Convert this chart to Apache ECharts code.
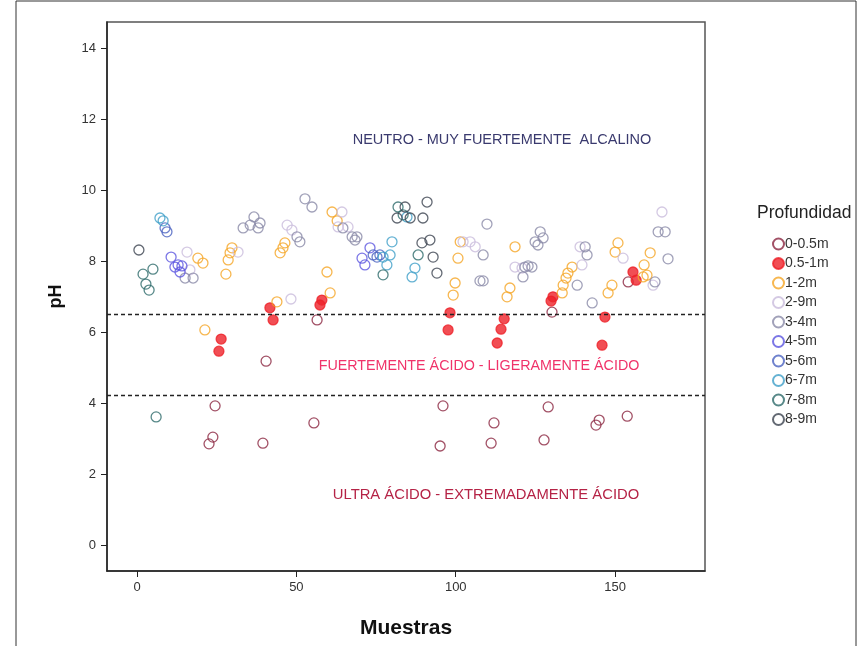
<!DOCTYPE html>
<html>
<head>
<meta charset="utf-8">
<script src="https://cdn.jsdelivr.net/npm/echarts@6/dist/echarts.min.js"></script>
<style>
  html, body { margin: 0; padding: 0; background: #fff; }
  #chart { width: 864px; height: 646px; }
</style>
</head>
<body>
<div id="chart"></div>
<script>
// profundidad (depth classes), as in the legend
const depths = ["0-0.5m", "0.5-1m", "1-2m", "2-9m", "3-4m", "4-5m", "5-6m", "6-7m", "7-8m", "8-9m"];
const depthColors = ["#8b2540", "#ee2229", "#f5a524", "#c9bcdc", "#8a8aa8", "#5b55e0", "#4a62c0", "#3f9fc8", "#2d6a6a", "#3c4350"];
const filled = [false, true, false, false, false, false, false, false, false, false];

// [muestra, pH]
const d0 = [[24.5,3.92],[23.8,3.04],[22.6,2.85],[39.5,2.87],[40.5,5.18],[55.5,3.44],[56.5,6.34],[96.0,3.92],[95.1,2.79],
  [112.0,3.44],[111.1,2.87],[129.0,3.89],[127.7,2.96],[130.2,6.56],[145.0,3.52],[144.0,3.38],[153.8,3.63],[154.1,7.41]];
const d1 = [[26.4,5.80],[25.7,5.46],[41.7,6.68],[42.7,6.34],[58.0,6.90],[57.4,6.76],[98.2,6.54],[97.6,6.06],[115.2,6.37],
  [114.2,6.08],[113.0,5.69],[130.5,6.99],[129.9,6.87],[146.8,6.42],[145.9,5.63],[155.6,7.69],[156.6,7.46]];
const d2 = [[19.1,8.08],[20.7,7.94],[21.3,6.06],[27.9,7.63],[28.6,8.03],[29.2,8.23],[29.8,8.37],[44.9,8.23],[45.8,8.37],
  [46.4,8.51],[43.9,6.85],[61.2,9.38],[62.8,9.13],[59.6,7.69],[60.6,7.10],[101.4,8.54],[100.7,8.08],[99.8,7.38],[99.2,7.04],
  [118.6,8.40],[117.0,7.24],[116.1,6.99],[136.5,7.83],[135.2,7.66],[134.6,7.52],[133.7,7.32],[133.4,7.10],[150.9,8.51],
  [150.0,8.25],[149.0,7.32],[147.8,7.10],[161.0,8.23],[159.1,7.89],[160.0,7.60],[158.8,7.55]];
const d3 = [[15.7,8.25],[16.6,7.75],[31.7,8.25],[47.1,9.01],[48.6,8.87],[48.3,6.93],[64.3,9.38],[63.1,8.96],[66.2,8.96],
  [102.3,8.54],[104.5,8.54],[106.1,8.40],[118.6,7.83],[120.8,7.80],[139.0,8.40],[139.6,7.89],[152.5,8.08],[161.9,7.32],[164.7,9.38]];
const d4 = [[15.1,7.52],[17.6,7.52],[33.3,8.93],[35.5,9.01],[36.7,9.24],[38.6,9.07],[38.0,8.93],[50.2,8.68],[51.1,8.54],
  [52.7,9.75],[54.9,9.52],[64.6,8.93],[67.5,8.68],[69.0,8.68],[68.4,8.59],[109.8,9.04],[108.6,8.17],[107.6,7.44],[108.6,7.44],
  [121.7,7.83],[122.7,7.86],[123.9,7.83],[121.1,7.55],[126.5,8.82],[124.9,8.54],[125.8,8.45],[127.4,8.65],[140.6,8.40],
  [141.2,8.17],[138.1,7.32],[142.8,6.82],[163.5,8.82],[165.7,8.82],[166.6,8.06],[162.5,7.41]];
const d5 = [[10.7,8.11],[11.9,7.83],[12.9,7.89],[13.5,7.69],[14.1,7.86],[70.6,8.08],[71.5,7.89],[73.1,8.37]];
const d6 = [[8.8,8.93],[9.4,8.82],[74.1,8.17],[75.3,8.11],[76.2,8.17]];
const d7 = [[7.2,9.21],[8.2,9.13],[77.2,8.11],[78.4,7.89],[79.4,8.17],[80.0,8.54],[87.2,7.80],[86.3,7.55],[84.7,9.24]];
const d8 = [[1.9,7.63],[5.0,7.77],[2.8,7.35],[3.8,7.18],[6.0,3.61],[77.2,7.61],[81.9,9.52],[83.5,9.30],[88.2,8.17]];
const d9 = [[0.6,8.31],[81.6,9.21],[84.1,9.52],[85.7,9.21],[91.0,9.66],[89.7,9.21],[89.4,8.51],[91.9,8.59],[92.9,8.11],[94.1,7.66]];
const seriesData = [d0, d1, d2, d3, d4, d5, d6, d7, d8, d9];

// pH class limits (dashed lines) and axis ticks
const limits = [6.5, 4.22];
const yTicks = [0, 2, 4, 6, 8, 10, 12, 14];
const xTicks = [0, 50, 100, 150];

const chart = echarts.init(document.getElementById("chart"));

const series = depths.map((name, i) => ({
  name: name,
  type: "scatter",
  symbol: "circle",
  symbolSize: 10,
  data: seriesData[i],
  itemStyle: {
    color: filled[i] ? depthColors[i] : "rgba(255,255,255,0)",
    borderColor: depthColors[i],
    borderWidth: 1.3
  },
  emphasis: { disabled: true }
}));

// dashed limits on the first series
series[0].markLine = {
  silent: true,
  symbol: "none",
  label: { show: false },
  lineStyle: { color: "#222", type: [4, 3], width: 1.3 },
  data: limits.map(v => ({ yAxis: v }))
};

const font = "Liberation Sans, Arial, sans-serif";

const option = {
  animation: false,
  backgroundColor: "#fff",
  grid: {
    left: 107, right: 159, top: 22, bottom: 75,
    show: true, borderColor: "#555", borderWidth: 1.5
  },
  xAxis: {
    type: "value",
    min: -9.41,
    max: 178.2,
    splitLine: { show: false },
    axisLine: { show: true, onZero: false, lineStyle: { color: "#222", width: 1.5 } },
    axisTick: { show: true, length: 6, customValues: xTicks, lineStyle: { color: "#222" } },
    axisLabel: { customValues: xTicks, color: "#333", fontSize: 13, fontFamily: font, margin: 10 },
    name: "Muestras",
    nameLocation: "middle",
    nameGap: 47,
    nameTextStyle: { fontSize: 21, fontWeight: "bold", color: "#111", fontFamily: font }
  },
  yAxis: {
    type: "value",
    min: -0.73,
    max: 14.73,
    splitLine: { show: false },
    axisLine: { show: true, onZero: false, lineStyle: { color: "#222", width: 1.5 } },
    axisTick: { show: true, length: 6, customValues: yTicks, lineStyle: { color: "#222" } },
    axisLabel: { customValues: yTicks, color: "#333", fontSize: 13, fontFamily: font, margin: 11 },
    name: "pH",
    nameLocation: "middle",
    nameGap: 42,
    nameRotate: 90,
    nameTextStyle: { fontSize: 18, fontWeight: "bold", color: "#111", fontFamily: font }
  },
  legend: {
    orient: "vertical",
    left: 767,
    top: 232,
    itemWidth: 11,
    itemHeight: 11,
    itemGap: 5.5,
    icon: "circle",
    data: depths,
    textStyle: { fontSize: 14, color: "#333", fontFamily: font, padding: [0, 0, 0, -4] }
  },
  graphic: [
    { type: "rect", shape: { x: 16, y: 1, width: 840, height: 660 }, style: { fill: "none", stroke: "#333", lineWidth: 1 }, silent: true },
    { type: "text", left: 757, top: 204, style: { text: "Profundidad", fontSize: 17.5, fill: "#222", fontFamily: font } },
    { type: "text", x: 502, y: 140, style: { text: "NEUTRO - MUY FUERTEMENTE  ALCALINO", fontSize: 14.5, fill: "#3a3a6e", fontFamily: font, align: "center", verticalAlign: "middle" } },
    { type: "text", x: 479, y: 366, style: { text: "FUERTEMENTE ÁCIDO - LIGERAMENTE ÁCIDO", fontSize: 14.3, fill: "#f0336a", fontFamily: font, align: "center", verticalAlign: "middle" } },
    { type: "text", x: 486, y: 495, style: { text: "ULTRA ÁCIDO - EXTREMADAMENTE ÁCIDO", fontSize: 14.8, fill: "#b52346", fontFamily: font, align: "center", verticalAlign: "middle" } }
  ],
  series: series
};

chart.setOption(option);
</script>
</body>
</html>
